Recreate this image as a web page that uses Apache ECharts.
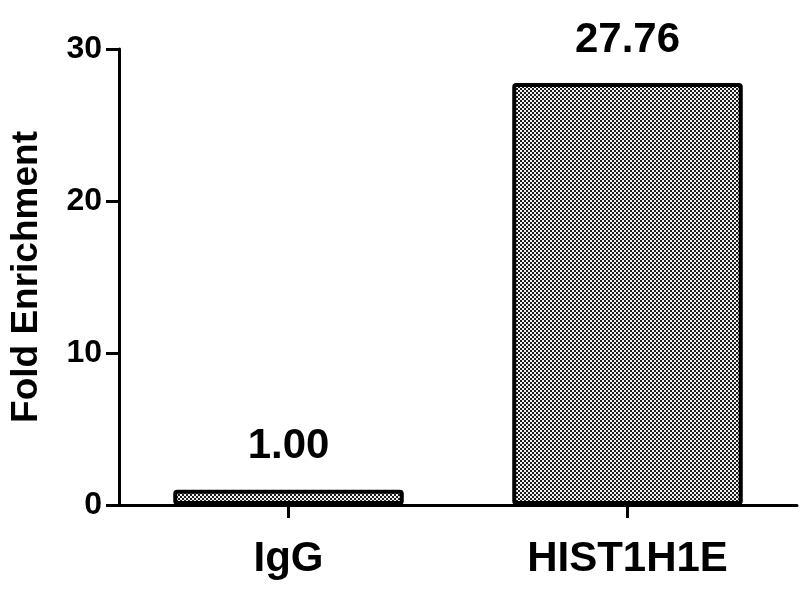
<!DOCTYPE html>
<html>
<head>
<meta charset="utf-8">
<script src="https://cdn.jsdelivr.net/npm/echarts@6/dist/echarts.min.js"></script>
<style>html,body{margin:0;padding:0;background:#fff}#c{width:800px;height:600px}</style>
</head>
<body>
<div id="c"></div>
<script>
var categories = ['IgG', 'HIST1H1E'];
var values = [1.00, 27.76];
var yTicks = [0, 10, 20, 30];

var pat = document.createElement('canvas');
pat.width = 4; pat.height = 4;
var g = pat.getContext('2d');
g.fillStyle = '#f2f2f2'; g.fillRect(0, 0, 4, 4);
g.fillStyle = '#1e1e1e'; g.fillRect(0, 0, 2, 2); g.fillRect(2, 2, 2, 2);

var FONT = 'Arial, "Liberation Sans", sans-serif';
var chart = echarts.init(document.getElementById('c'), null, {renderer: 'canvas'});
chart.setOption({
  animation: false,
  backgroundColor: '#fff',
  grid: {left: 108, right: 3, top: 49, bottom: 95, containLabel: false},
  xAxis: {
    type: 'category',
    data: categories,
    axisLine: {lineStyle: {color: '#000', width: 3}},
    axisTick: {show: true, alignWithLabel: true, length: 13, lineStyle: {color: '#000', width: 3}},
    axisLabel: {color: '#000', fontSize: 42, fontWeight: 'bold', fontFamily: FONT, margin: 33}
  },
  yAxis: {
    type: 'value',
    min: yTicks[0], max: yTicks[yTicks.length - 1], interval: 10,
    name: 'Fold Enrichment',
    nameLocation: 'middle',
    nameGap: 74,
    nameRotate: 90,
    nameTextStyle: {color: '#000', fontSize: 37, fontWeight: 'bold', fontFamily: FONT},
    axisLine: {show: true, lineStyle: {color: '#000', width: 3}},
    axisTick: {show: true, length: 13, lineStyle: {color: '#000', width: 3}},
    splitLine: {show: false},
    axisLabel: {color: '#000', fontSize: 32, fontWeight: 'bold', fontFamily: FONT, margin: 17}
  },
  series: [{
    type: 'bar',
    data: values,
    barWidth: '68%',
    itemStyle: {color: {image: pat, repeat: 'repeat'}, borderColor: '#000', borderWidth: 4, borderRadius: 2},
    label: {
      show: true, position: 'top', distance: 22,
      color: '#000', fontSize: 42, fontWeight: 'bold', fontFamily: FONT,
      formatter: function (p) { return p.value.toFixed(2); }
    }
  }]
});
</script>
</body>
</html>
